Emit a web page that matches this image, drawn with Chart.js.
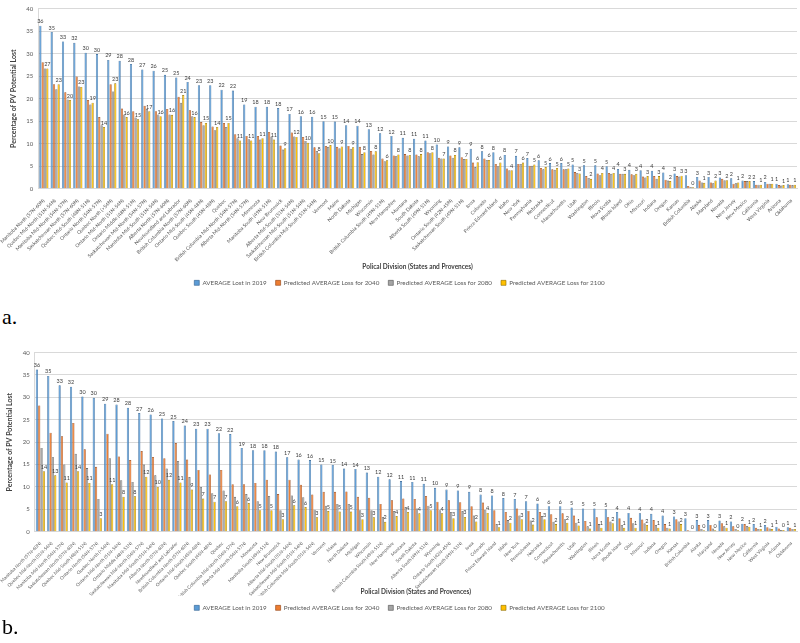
<!DOCTYPE html>
<html>
<head>
<meta charset="utf-8">
<script src="https://cdn.jsdelivr.net/npm/chart.js@4.4.0/dist/chart.umd.min.js"></script>
<style>
  body { margin: 0; width: 800px; height: 643px; background: #fff; position: relative; overflow: hidden; }
  canvas { position: absolute; left: 0; }
  .tag { position: absolute; left: 2px; font-family: "Liberation Serif", "DejaVu Serif", serif; font-size: 22px; color: #000; }
</style>
</head>
<body>
<canvas id="chartA" width="800" height="296" style="top:0"></canvas>
<div class="tag" style="top:304px">a.</div>
<canvas id="chartB" width="800" height="277" style="top:344px"></canvas>
<div class="tag" style="top:614px">b.</div>
<script>
const categories = [
  "Manitoba North (57N-60N)", "Quebec Mid-North (51N-54N)", "Manitoba Mid-North (54N-57N)",
  "Saskatchewan North (57N-60N)", "Quebec Mid-South (48N-51N)", "Ontario North (54N-57N)",
  "Quebec North (>54N)", "Ontario Mid-North (51N-54N)", "Ontario Middle (48N-51N)",
  "Saskatchewan Mid-North (54N-57N)", "Manitoba Mid-South (51N-54N)", "Alberta North (57N-60N)",
  "Newfoundland and Labrador", "British Columbia North (57N-60N)", "Ontario Mid-South (45N-48N)",
  "Quebec South (45N-48N)", "Quebec", "British Columbia Mid-North (54N-57N)",
  "Alberta Mid-North (54N-57N)", "Minnesota", "Manitoba South (49N-51N)", "New Brunswick",
  "Alberta Mid-South (51N-54N)", "Saskatchewan Mid-South (51N-54N)", "British Columbia Mid-South (51N-54N)",
  "Vermont", "Maine", "North Dakota", "Michigan", "Wisconsin", "British Columbia South (49N-51N)",
  "New Hampshire", "Montana", "South Dakota", "Alberta South (49N-51N)", "Wyoming",
  "Ontario South (42N-45N)", "Saskatchewan South (49N-51N)", "Iowa", "Colorado",
  "Prince Edward Island", "Idaho", "New York", "Pennsylvania", "Nebraska", "Connecticut",
  "Massachusetts", "Utah", "Washington", "Illinois", "Nova Scotia", "Rhode Island", "Ohio",
  "Missouri", "Indiana", "Oregon", "Kansas", "British Columbia", "Alaska", "Maryland",
  "Nevada", "New Jersey", "New Mexico", "California", "West Virginia", "Arizona", "Oklahoma"
];

const seriesNames = [
  "AVERAGE Lost in 2019",
  "Predicted AVERAGE Loss for 2040",
  "Predicted AVERAGE Loss for 2080",
  "Predicted AVERAGE Loss for 2100"
];

const yTicks = [0, 5, 10, 15, 20, 25, 30, 35, 40];

// measured 2019 loss (same in both panels)
const lost2019 = [
  36.2, 34.8, 32.7, 32.4, 30.2, 29.9, 28.6, 28.4, 27.7, 26.5,
  26.2, 25.3, 24.7, 23.7, 23.0, 23.0, 22.0, 21.8, 18.7, 18.2,
  18.2, 17.9, 16.6, 16.1, 16.0, 15.0, 14.9, 14.1, 14.0, 13.2,
  12.3, 11.7, 11.3, 11.1, 10.7, 9.8, 9.4, 9.2, 8.9, 8.3,
  8.1, 7.5, 7.3, 6.8, 6.3, 5.7, 5.7, 5.4, 5.2, 5.2,
  5.0, 4.4, 4.2, 4.1, 4.0, 3.6, 3.4, 3.0, 2.6, 2.6,
  2.5, 2.3, 1.8, 1.7, 1.5, 1.1, 1.0
];

// panel a
const a2040 = [
  28.1, 23.2, 21.4, 24.9, 19.7, 15.9, 23.2, 17.8, 17.2, 18.4,
  17.2, 17.7, 20.4, 17.4, 14.8, 13.8, 14.6, 12.1, 11.7, 11.7,
  12.6, 9.6, 12.5, 11.5, 9.2, 9.5, 9.3, 9.5, 9.3, 8.4,
  6.7, 7.4, 7.7, 7.6, 8.1, 6.9, 7.4, 7.0, 5.8, 6.7,
  5.5, 4.5, 5.5, 5.1, 4.6, 4.3, 4.3, 3.7, 2.8, 3.4,
  3.5, 3.3, 3.2, 2.7, 2.8, 2.0, 2.8, 0.6, 1.8, 1.4,
  2.2, 1.1, 1.7, 0.9, 1.1, 0.8, 0.9
];
const a2080 = [
  26.7, 22.1, 19.8, 22.7, 18.7, 14.1, 21.6, 16.5, 15.8, 17.7,
  16.5, 16.5, 19.1, 16.1, 14.1, 13.0, 13.7, 11.2, 11.0, 10.9,
  11.6, 8.7, 11.6, 10.6, 8.4, 9.3, 9.0, 8.9, 7.7, 7.6,
  6.1, 7.2, 7.4, 7.2, 7.9, 6.7, 6.9, 6.6, 4.8, 6.4,
  5.0, 4.1, 5.5, 5.1, 4.3, 4.2, 4.3, 3.5, 2.4, 3.0,
  3.3, 3.3, 3.0, 2.5, 2.2, 1.8, 2.7, 0.4, 1.4, 1.2,
  1.9, 1.2, 1.7, 0.9, 1.1, 0.7, 0.8
];
const a2100 = [
  26.7, 23.2, 19.7, 22.6, 19.1, 13.7, 23.4, 15.9, 15.4, 17.2,
  16.1, 16.4, 20.8, 15.9, 14.6, 13.7, 14.6, 10.7, 10.7, 11.2,
  10.9, 9.0, 11.5, 10.2, 7.9, 9.7, 9.4, 9.2, 8.1, 8.3,
  6.3, 7.6, 7.5, 7.7, 8.1, 6.7, 7.5, 6.6, 5.9, 6.4,
  5.8, 4.1, 5.8, 5.4, 4.8, 4.6, 4.5, 3.4, 2.2, 3.5,
  3.5, 3.3, 3.3, 2.8, 2.8, 1.7, 2.9, 0.3, 1.3, 1.8,
  1.9, 1.4, 1.7, 0.9, 1.1, 0.8, 0.9
];

// panel b
const b2040 = [
  28.2, 22.1, 21.3, 24.3, 18.4, 14.5, 21.9, 16.8, 16.0, 18.0,
  16.7, 16.4, 19.8, 16.1, 13.8, 12.8, 13.8, 10.6, 10.6, 10.9,
  11.6, 8.4, 11.6, 10.5, 8.3, 8.9, 8.9, 9.0, 7.8, 7.6,
  6.2, 7.0, 7.4, 7.3, 8.0, 6.7, 7.0, 6.6, 5.7, 6.5,
  4.8, 4.4, 5.2, 4.7, 4.4, 3.9, 4.1, 3.6, 2.4, 3.2,
  3.2, 3.0, 3.1, 2.7, 2.6, 1.7, 2.8, 0.3, 1.5, 1.5,
  1.9, 1.2, 1.7, 0.9, 1.0, 0.7, 0.9
];
const b2080 = [
  18.7, 16.6, 15.0, 17.4, 14.2, 7.3, 16.4, 11.5, 11.1, 15.0,
  12.6, 14.1, 15.8, 12.2, 10.0, 8.6, 9.2, 7.8, 8.4, 6.8,
  8.0, 4.8, 8.1, 7.7, 4.9, 5.8, 6.2, 6.2, 4.8, 4.8,
  3.3, 4.6, 5.5, 5.2, 5.8, 4.8, 4.4, 4.6, 3.6, 4.9,
  1.7, 2.6, 3.6, 2.5, 3.5, 2.2, 2.8, 2.0, 1.2, 1.7,
  2.3, 1.5, 1.9, 1.9, 1.5, 0.9, 2.3, 0.2, 0.6, 0.7,
  1.2, 0.6, 1.3, 0.6, 0.7, 0.4, 0.6
];
const b2100 = [
  13.5, 12.6, 11.0, 13.5, 10.9, 3.0, 10.6, 7.8, 7.9, 12.3,
  10.0, 11.6, 11.0, 9.4, 7.4, 6.7, 6.8, 5.7, 6.4, 4.8,
  4.8, 2.8, 5.9, 5.5, 3.2, 4.6, 4.5, 4.5, 2.8, 3.2,
  2.2, 3.5, 4.4, 4.1, 4.8, 4.1, 3.0, 3.3, 2.3, 4.2,
  1.0, 2.0, 2.8, 1.6, 2.8, 1.7, 2.0, 1.4, 0.7, 0.9,
  1.9, 0.9, 0.9, 1.5, 0.9, 0.7, 1.7, 0.1, 0.3, 0.3,
  0.9, 0.3, 1.1, 0.6, 0.6, 0.4, 0.6
];

const fills = ["#5B9BD5", "#ED7D31", "#A5A5A5", "#FFC000"];
const edges = ["#2F5F8F", "#8E3F10", "#505050", "#8A6A00"];
const FONT = "Lato, 'Open Sans', sans-serif";

// small value labels over the 2019 and 2100 bars
const barLabels = {
  id: "barLabels",
  afterDatasetsDraw(chart) {
    const ctx = chart.ctx;
    ctx.save();
    ctx.font = "5.5px " + FONT;
    ctx.fillStyle = "#404040";
    ctx.textAlign = "center";
    ctx.textBaseline = "bottom";
    [0, 3].forEach((di) => {
      const meta = chart.getDatasetMeta(di);
      meta.data.forEach((bar, i) => {
        const v = chart.data.datasets[di].data[i];
        ctx.fillText(Math.round(v), bar.x, bar.y - 1.5);
      });
    });
    ctx.restore();
  }
};

function makeChart(id, values, axisHeight, labelSize) {
  const datasets = values.map((vals, k) => ({
    label: seriesNames[k],
    data: vals,
    backgroundColor: fills[k],
    borderColor: edges[k],
    borderWidth: 0.6,
    categoryPercentage: 0.82,
    barPercentage: 0.95
  }));

  return new Chart(document.getElementById(id), {
    type: "bar",
    data: { labels: categories, datasets: datasets },
    plugins: [barLabels],
    options: {
      responsive: false,
      animation: false,
      layout: { padding: { top: 1, right: 3, left: 2, bottom: 0 } },
      plugins: {
        tooltip: { enabled: false },
        legend: {
          position: "bottom",
          labels: {
            boxWidth: 5,
            boxHeight: 5,
            padding: 9,
            color: "#595959",
            font: { family: FONT, size: 6.3 }
          }
        }
      },
      scales: {
        x: {
          grid: { display: false },
          border: { color: "#d9d9d9" },
          ticks: {
            autoSkip: false,
            maxRotation: 45,
            minRotation: 45,
            padding: 1,
            color: "#595959",
            font: { family: FONT, size: labelSize }
          },
          title: {
            display: true,
            text: "Polical Division (States and Provences)",
            color: "#404040",
            padding: 0,
            font: { family: FONT, size: 6.5, weight: "bold" }
          },
          afterFit: (scale) => { scale.height = axisHeight; }
        },
        y: {
          min: 0,
          max: 40,
          afterBuildTicks: (scale) => { scale.ticks = yTicks.map((v) => ({ value: v })); },
          grid: { color: "#d9d9d9", drawTicks: false },
          border: { color: "#d9d9d9" },
          ticks: {
            padding: 5,
            color: "#595959",
            font: { family: FONT, size: 6 }
          },
          title: {
            display: true,
            text: "Percentage of PV Potential Lost",
            color: "#404040",
            padding: 2,
            font: { family: FONT, size: 7, weight: "bold" }
          },
          afterFit: (scale) => { scale.width = 31; }
        }
      }
    }
  });
}

makeChart("chartA", [lost2019, a2040, a2080, a2100], 82, 5);
makeChart("chartB", [lost2019, b2040, b2080, b2100], 64, 4.6);
</script>
</body>
</html>
